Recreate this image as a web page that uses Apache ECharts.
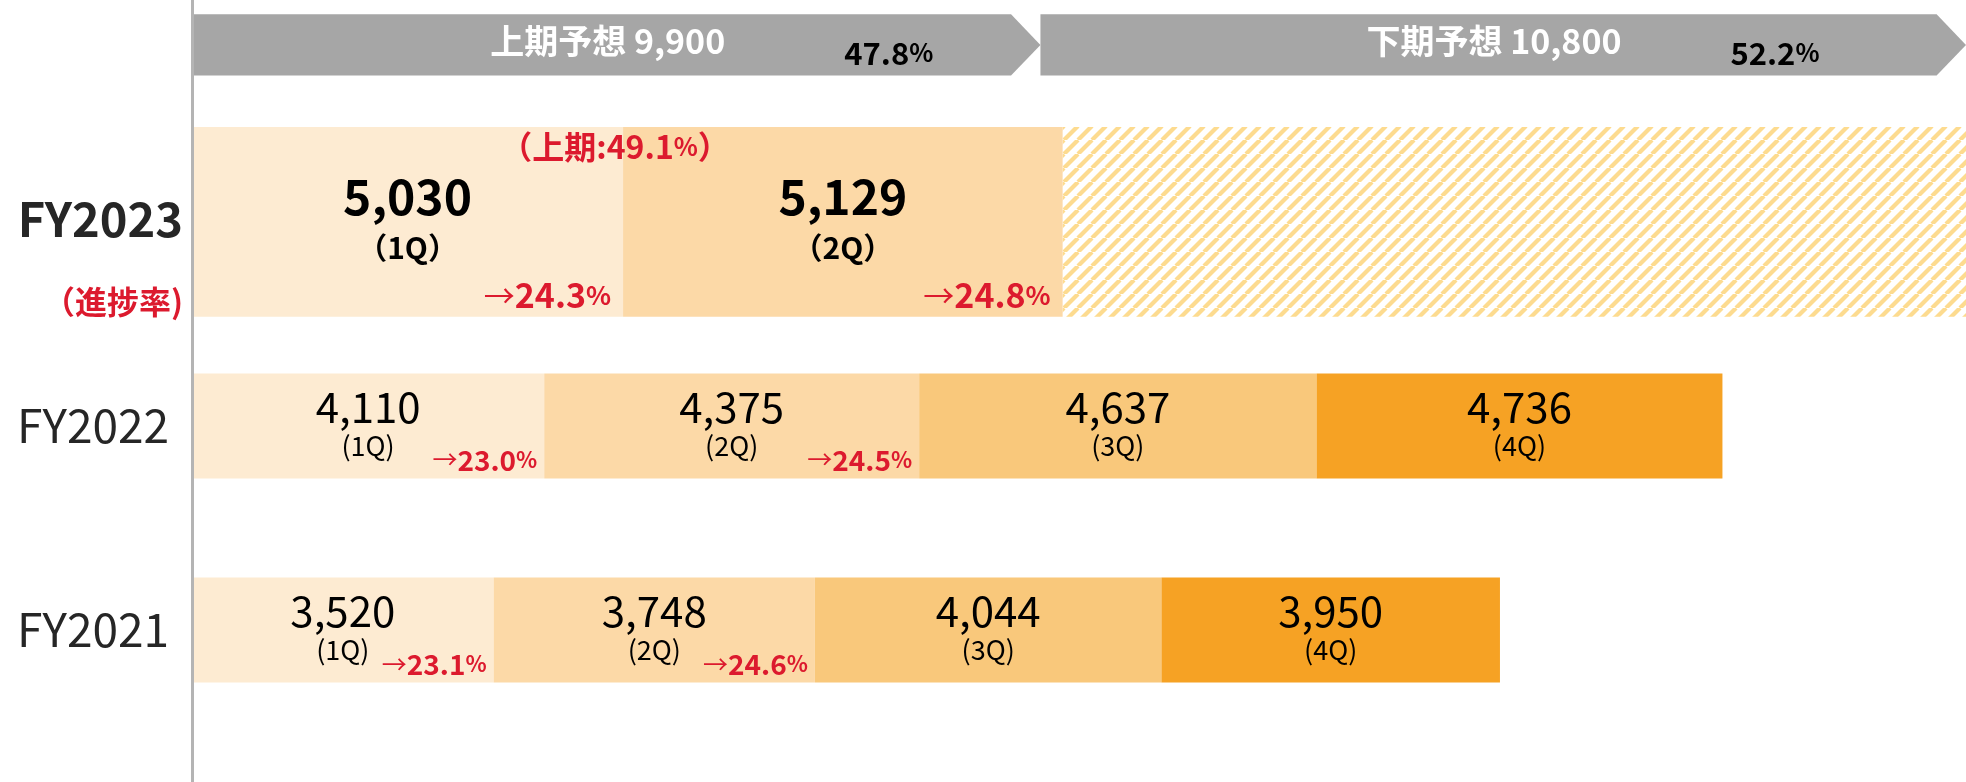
<!DOCTYPE html>
<html>
<head>
<meta charset="utf-8">
<script src="https://cdn.jsdelivr.net/npm/echarts@6/dist/echarts.min.js"></script>
<style>
  html, body { margin: 0; padding: 0; background: #fff; }
  #chart { width: 1966px; height: 782px; }
</style>
</head>
<body>
<div id="chart"></div>
<script>
// 四半期売上（FY2021〜FY2023）と今期予想
const years = ['FY2021', 'FY2022', 'FY2023'];
const quarters = ['1Q', '2Q', '3Q', '4Q'];
const sales2021 = [3520, 3748, 4044, 3950];
const sales2022 = [4110, 4375, 4637, 4736];
const sales2023 = [5030, 5129];
const progress2021 = [23.1, 24.6];
const progress2022 = [23.0, 24.5];
const progress2023 = [24.3, 24.8];
const firstHalfProgress2023 = 49.1;
const planNames = ['上期予想', '下期予想'];
const planValues = [9900, 10800];
const planShares = [47.8, 52.2];

const quarterColors = ['#fdebd2', '#fcd9a7', '#f9c87b', '#f6a224'];
const RED = '#dc1a2e';
const FONT = '"Noto Sans CJK JP", "Noto Sans", sans-serif';
const PLAN_ROW = 2.868;
const PLAN_H = 0.3;

const sales = [sales2021, sales2022, sales2023];
const progress = [progress2021, progress2022, progress2023];

const barData = [];
sales.forEach((row, y) => {
  let acc = 0;
  row.forEach((v, q) => {
    barData.push([acc, acc + v, y, q, v]);
    acc += v;
  });
});
const planTotal = planValues[0] + planValues[1];
const done2023 = sales2023.reduce((a, b) => a + b, 0);
const hatchData = [[done2023, planTotal, 2]];
const planData = [];
let planAcc = 0;
planValues.forEach((v, i) => {
  planData.push([planAcc, planAcc + v, i]);
  planAcc += v;
});

function makeHatch() {
  const c = document.createElement('canvas');
  c.width = 14;
  c.height = 14;
  const ctx = c.getContext('2d');
  ctx.strokeStyle = '#fddb8f';
  ctx.lineWidth = 4.2;
  for (let k = -1; k <= 1; k++) {
    ctx.beginPath();
    ctx.moveTo(k * 14, 14);
    ctx.lineTo(k * 14 + 14, 0);
    ctx.stroke();
  }
  return c;
}
const hatch = makeHatch();

function pctRich(size, small) {
  return {
    a: { fontSize: size - 3, fontWeight: 'normal', fill: RED, fontFamily: FONT },
    n: { fontSize: size, fontWeight: 'bold', fill: RED, fontFamily: FONT },
    s: { fontSize: small, fontWeight: 'bold', fill: RED, fontFamily: FONT }
  };
}

function renderBar(params, api) {
  const y = api.value(2);
  const q = api.value(3);
  const v = api.value(4);
  const p0 = api.coord([api.value(0), y]);
  const p1 = api.coord([api.value(1), y]);
  const band = api.size([0, 1])[1];
  const big = y === 2;
  const h = band * (big ? 0.93 : 0.515);
  const cx = (p0[0] + p1[0]) / 2;
  const cy = p0[1];
  const children = [{
    type: 'rect',
    shape: { x: p0[0], y: cy - h / 2, width: p1[0] - p0[0], height: h },
    style: { fill: quarterColors[q] }
  }, {
    type: 'text',
    x: cx, y: cy + (big ? -25 : -19),
    style: {
      text: v.toLocaleString('en-US'), fill: '#000', fontFamily: FONT,
      fontSize: big ? 48 : 42, fontWeight: big ? 'bold' : 'normal',
      align: 'center', verticalAlign: 'middle'
    }
  }, {
    type: 'text',
    x: cx, y: cy + (big ? 26 : 20),
    style: {
      text: big ? '（' + quarters[q] + '）' : '(' + quarters[q] + ')',
      fill: '#000', fontFamily: FONT,
      fontSize: big ? 30 : 27, fontWeight: big ? 'bold' : 'normal',
      align: 'center', verticalAlign: 'middle'
    }
  }];
  const pr = progress[y][q];
  if (pr != null) {
    children.push({
      type: 'text',
      x: p1[0] - (big ? 12 : 7), y: cy + (big ? 73 : 34),
      style: {
        text: '{a|→}{n|' + pr.toFixed(1) + '}{s|%}',
        rich: pctRich(big ? 34 : 28, big ? 26 : 22),
        align: 'right', verticalAlign: 'middle'
      }
    });
  }
  if (big && q === 1) {
    children.push({
      type: 'text',
      x: p0[0] - 8, y: cy - 75,
      style: {
        text: '{n|（上期:' + firstHalfProgress2023.toFixed(1) + '}{s|%}{n|）}',
        rich: pctRich(32, 25),
        align: 'center', verticalAlign: 'middle'
      }
    });
  }
  return { type: 'group', children: children };
}

function renderHatch(params, api) {
  const y = api.value(2);
  const p0 = api.coord([api.value(0), y]);
  const p1 = api.coord([api.value(1), y]);
  const h = api.size([0, 1])[1] * 0.93;
  return {
    type: 'rect',
    shape: { x: p0[0], y: p0[1] - h / 2, width: p1[0] - p0[0], height: h },
    style: { fill: { image: hatch, repeat: 'repeat' } }
  };
}

function renderPlan(params, api) {
  const i = api.value(2);
  const p0 = api.coord([api.value(0), PLAN_ROW]);
  const p1 = api.coord([api.value(1), PLAN_ROW]);
  const h = api.size([0, PLAN_H])[1];
  const tip = h * 0.48;
  const cy = p0[1];
  const top = cy - h / 2;
  const bot = cy + h / 2;
  const mid = p0[0] + (p1[0] - p0[0]) * 0.49;
  return {
    type: 'group',
    children: [{
      type: 'polygon',
      shape: { points: [[p0[0], top], [p1[0] - tip, top], [p1[0], cy], [p1[0] - tip, bot], [p0[0], bot]] },
      style: { fill: '#a6a6a6' }
    }, {
      type: 'text',
      x: mid, y: cy - 4,
      style: {
        text: planNames[i] + ' ' + planValues[i].toLocaleString('en-US'),
        fill: '#fff', fontFamily: FONT, fontSize: 34, fontWeight: 'bold',
        align: 'center', verticalAlign: 'middle'
      }
    }, {
      type: 'text',
      x: mid + 281, y: cy + 8,
      style: {
        text: '{n|' + planShares[i].toFixed(1) + '}{s|%}',
        rich: {
          n: { fontSize: 31, fontWeight: 'bold', fill: '#000', fontFamily: FONT },
          s: { fontSize: 25, fontWeight: 'bold', fill: '#000', fontFamily: FONT }
        },
        align: 'center', verticalAlign: 'middle'
      }
    }]
  };
}

const chart = echarts.init(document.getElementById('chart'));
chart.setOption({
  animation: false,
  grid: { left: 192, right: 0, top: 0, bottom: 0 },
  xAxis: { type: 'value', min: 0, max: planTotal, show: false },
  yAxis: {
    type: 'value',
    min: -0.745,
    max: 3.088,
    z: 5,
    splitLine: { show: false },
    axisTick: { show: false },
    axisLine: { show: true, lineStyle: { color: '#b4b4b4', width: 3 } },
    axisLabel: {
      customValues: [0, 1, 2],
      align: 'right',
      margin: 9,
      formatter: function (v) {
        const name = years[Math.round(v)];
        if (Math.round(v) === 2) {
          return '{e| }\n{b|' + name + '}\n{r|（進捗率)}';
        }
        return '{n|' + name + '}';
      },
      rich: {
        e: { fontSize: 10, lineHeight: 110 },
        b: { fontSize: 47, fontWeight: 'bold', color: '#262626', fontFamily: FONT, lineHeight: 50 },
        r: { fontSize: 32, fontWeight: 'bold', color: RED, fontFamily: FONT, lineHeight: 116 },
        n: { fontSize: 46, color: '#262626', fontFamily: FONT, padding: [0, 14, 0, 0] }
      }
    }
  },
  series: [{
    type: 'custom',
    name: 'plan',
    renderItem: renderPlan,
    data: planData,
    clip: false
  }, {
    type: 'custom',
    name: 'rest',
    renderItem: renderHatch,
    data: hatchData
  }, {
    type: 'custom',
    name: 'sales',
    renderItem: renderBar,
    data: barData
  }]
});
</script>
</body>
</html>
